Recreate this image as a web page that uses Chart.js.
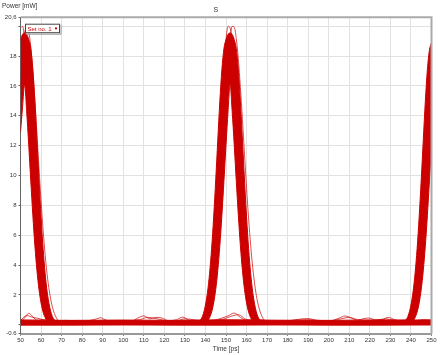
<!DOCTYPE html>
<html><head><meta charset="utf-8">
<style>html,body{margin:0;padding:0;background:#fff}#wrap{width:445px;height:355px;position:relative}canvas{display:block}</style>
<script src="https://cdn.jsdelivr.net/npm/chart.js@4/dist/chart.umd.min.js"></script>
</head><body><div id="wrap"><canvas id="c" width="445" height="355"></canvas></div>
<script>
// ---- tick values / labels ----
const xTickValues = [50,60,70,80,90,100,110,120,130,140,150,160,170,180,190,200,210,220,230,240,250];
const yTickValues = [-0.6,0,2,4,6,8,10,12,14,16,18,20,20.6];
const yTickLabels = ['-0.6','','2','4','6','8','10','12','14','16','18','','20,6'];

// ---- baseline band (zero level of all traces) ----
const baseTime = [50,75,100,125,150,175,200,225,250];
const baseHi   = [0.33,0.30,0.32,0.30,0.34,0.31,0.30,0.33,0.32];
const baseLo   = [-0.02,-0.02,-0.01,-0.02,-0.02,-0.01,-0.02,-0.02,-0.01];

// ---- pulse 1 envelope (upper / lower edge of the trace bundle) ----
const pulse1Time = [50,51,52,53,54,55,56,57,58,59,60,61,62,63,64,65,66,67,68];
const pulse1Hi   = [19.1,19.45,19.55,19.45,19.1,18.5,17.1,14.97,12.37,9.70,7.23,5.11,3.43,2.19,1.33,0.76,0.42,0.3,0.3];
const pulse1Lo   = [12.9,14.6,16.1,14.29,12.05,9.65,7.34,5.30,3.64,2.37,1.47,0.86,0.48,0.25,0.1,0.1,0.1,0.1,0.1];

// ---- pulse 2 envelope ----
const pulse2Time = [136,137,138,139,140,141,142,143,144,145,146,147,148,149,150,151,152,153,154,155,156,157,158,159,160,161,162,163,164,165,166,167,168];
const pulse2Hi   = [0.3,0.3,0.42,0.76,1.33,2.19,3.43,5.11,7.23,9.70,12.37,14.97,17.1,18.5,19.1,19.45,19.55,19.45,19.1,18.5,17.1,14.97,12.37,9.70,7.23,5.11,3.43,2.19,1.33,0.76,0.42,0.3,0.3];
const pulse2Lo   = [0.1,0.1,0.1,0.1,0.1,0.25,0.48,0.86,1.47,2.37,3.64,5.30,7.34,9.65,12.05,14.29,16.09,14.29,12.05,9.65,7.34,5.30,3.64,2.37,1.47,0.86,0.48,0.25,0.1,0.1,0.1,0.1,0.1];

// ---- pulse 3 envelope (cut by the right edge) ----
const pulse3Time = [236,237,238,239,240,241,242,243,244,245,246,247,248,249,250];
const pulse3Hi   = [0.3,0.3,0.42,0.76,1.33,2.19,3.43,5.11,7.23,9.70,12.37,14.97,17.1,18.4,18.9];
const pulse3Lo   = [0.1,0.1,0.1,0.1,0.1,0.25,0.48,0.86,1.47,2.37,3.64,5.30,7.34,9.65,12.05];

// ---- single outlying traces ----
const out1EarlyTime = [50,51,52,53,54,55,56];
const out1EarlyVal  = [19.88,19.99,19.08,17.30,14.89,12.17,9.45];
const out1LateTime  = [50,51,52,53,54,55,56,57,58,59,60,61,62,63,64,65,66,67,68,69];
const out1LateVal   = [15.85,18.04,19.49,20.0,19.64,18.61,17.02,15.01,12.77,10.48,8.30,6.34,4.67,3.32,2.28,1.51,0.96,0.59,0.35,0.22];
const out2EarlyTime = [140,141,142,143,144,145,146,147,148,149,150,151,152,153,154,155,156];
const out2EarlyVal  = [0.70,1.23,2.05,3.25,4.88,6.97,9.45,12.17,14.89,17.30,19.08,19.99,19.88,18.79,16.85,14.36,11.62];
const out2LateTime  = [146,147,148,149,150,151,152,153,154,155,156,157,158,159,160,161,162,163,164,165,166,167,168,169,170];
const out2LateVal   = [4.88,6.97,9.45,12.17,14.89,17.30,19.08,19.99,19.94,19.17,17.78,15.90,13.73,11.43,9.18,7.11,5.32,3.84,2.67,1.79,1.16,0.73,0.44,0.25,0.15];

// ---- ripples of zero bits ----
const rippleATime = [50,52,54,56,58,62,66,72,78,84,87,89,91,95,100,104,107,110,113,116,119,122,126,129,132,136,140,144,148,151,154,157,160,165,170,176,182,187,190,194,198,202,205,208,211,214,217,220,223,226,229,232,236,240,245,250];
const rippleAVal  = [0.2,0.45,0.77,0.55,0.3,0.35,0.25,0.3,0.22,0.3,0.4,0.48,0.35,0.22,0.28,0.25,0.45,0.6,0.4,0.5,0.45,0.28,0.35,0.52,0.3,0.22,0.25,0.3,0.45,0.6,0.79,0.5,0.3,0.35,0.28,0.25,0.3,0.4,0.42,0.3,0.25,0.3,0.45,0.59,0.45,0.3,0.42,0.45,0.3,0.35,0.5,0.35,0.25,0.28,0.3,0.32];
const rippleBTime = [50,53,56,59,62,65,70,80,90,100,108,112,116,120,125,130,140,148,152,156,160,170,180,190,200,206,210,214,220,228,232,240,246,250];
const rippleBVal  = [0.3,0.62,0.5,0.42,0.3,0.22,0.28,0.25,0.3,0.25,0.35,0.5,0.42,0.3,0.25,0.4,0.25,0.35,0.55,0.68,0.35,0.25,0.28,0.35,0.25,0.4,0.5,0.35,0.3,0.4,0.3,0.25,0.35,0.3];

const RED = 'rgb(204,0,0)';
const THIN = 'rgba(204,0,0,0.7)';
const pts = (t, v) => t.map((x, i) => ({x: x, y: v[i]}));

function band(t, v, fillTo) {
  return {data: pts(t, v), borderColor: RED, backgroundColor: RED, borderWidth: 1,
    pointRadius: 0, fill: fillTo, cubicInterpolationMode: 'monotone'};
}
function thin(t, v) {
  return {data: pts(t, v), borderColor: THIN, borderWidth: 1, pointRadius: 0,
    fill: false, cubicInterpolationMode: 'monotone'};
}

const datasets = [
  band(pulse1Time, pulse1Lo, false), band(pulse1Time, pulse1Hi, 0),
  band(pulse2Time, pulse2Lo, false), band(pulse2Time, pulse2Hi, 2),
  band(pulse3Time, pulse3Lo, false), band(pulse3Time, pulse3Hi, 4),
  band(baseTime, baseLo, false), band(baseTime, baseHi, 6),
  thin(out1EarlyTime, out1EarlyVal), thin(out1LateTime, out1LateVal),
  thin(out2EarlyTime, out2EarlyVal), thin(out2LateTime, out2LateVal),
  thin(rippleATime, rippleAVal), thin(rippleBTime, rippleBVal)
];

const FONT = '"Liberation Sans", Arial, sans-serif';

const decor = {
  id: 'decor',
  afterDraw(chart) {
    const ctx = chart.ctx, a = chart.chartArea;
    ctx.save();
    // top and right frame
    ctx.strokeStyle = '#aaa'; ctx.lineWidth = 2;
    ctx.beginPath();
    ctx.moveTo(a.left, a.top); ctx.lineTo(a.right, a.top); ctx.lineTo(a.right, a.bottom);
    ctx.stroke();
    // y axis title, horizontal at top-left
    ctx.fillStyle = '#333'; ctx.font = '6.5px ' + FONT;
    ctx.textBaseline = 'middle'; ctx.textAlign = 'left';
    ctx.fillText('Power [mW]', 2, 6);
    // legend box
    const lx = a.left + 4.5, ly = a.top + 6.5, lw = 35, lh = 9.5;
    ctx.fillStyle = '#fff'; ctx.fillRect(lx, ly, lw, lh);
    ctx.strokeStyle = '#999'; ctx.lineWidth = 1;
    ctx.beginPath(); ctx.moveTo(lx + lw + 1, ly + 1); ctx.lineTo(lx + lw + 1, ly + lh + 1); ctx.lineTo(lx + 1, ly + lh + 1); ctx.stroke();
    ctx.strokeStyle = '#444';
    ctx.strokeRect(lx + 0.5, ly + 0.5, lw - 1, lh - 1);
    ctx.fillStyle = RED; ctx.font = '6px ' + FONT;
    ctx.fillText('Set no. 1', lx + 2.5, ly + lh / 2 + 0.5);
    ctx.beginPath(); ctx.arc(lx + lw - 4, ly + lh / 2, 1.1, 0, Math.PI * 2); ctx.fill();
    ctx.restore();
  }
};

new Chart(document.getElementById('c'), {
  type: 'line',
  data: {datasets: datasets},
  options: {
    responsive: false, animation: false, devicePixelRatio: 1,
    layout: {padding: {left: 0, right: 13.5, top: 0, bottom: 0}},
    plugins: {
      legend: {display: false}, tooltip: {enabled: false},
      title: {display: true, text: 'S', color: '#333', font: {family: FONT, size: 7, weight: 'normal'},
        padding: {top: 5.8, bottom: 3}}
    },
    scales: {
      x: {
        type: 'linear', min: 50, max: 250,
        afterBuildTicks: s => { s.ticks = xTickValues.map(v => ({value: v})); },
        afterFit: s => { s.height = 21.2; },
        ticks: {autoSkip: false, maxRotation: 0, color: '#333', padding: 1, font: {family: FONT, size: 6}},
        grid: {color: '#e2e2e2', lineWidth: 1, tickColor: '#666', tickLength: 2},
        border: {color: '#999', width: 2},
        title: {display: true, text: 'Time [ps]', color: '#333', font: {family: FONT, size: 6.5}, padding: {top: 0, bottom: 2}}
      },
      y: {
        type: 'linear', min: -0.6, max: 20.6,
        afterBuildTicks: s => { s.ticks = yTickValues.map(v => ({value: v})); },
        afterFit: s => { s.width = 20.5; },
        ticks: {autoSkip: false, color: '#333', padding: 2, font: {family: FONT, size: 6},
          callback: (v, i) => yTickLabels[i]},
        grid: {color: '#e2e2e2', lineWidth: 1, tickColor: '#666', tickLength: 2},
        border: {color: '#666', width: 1}
      }
    }
  },
  plugins: [decor]
});
</script>
</body></html>
